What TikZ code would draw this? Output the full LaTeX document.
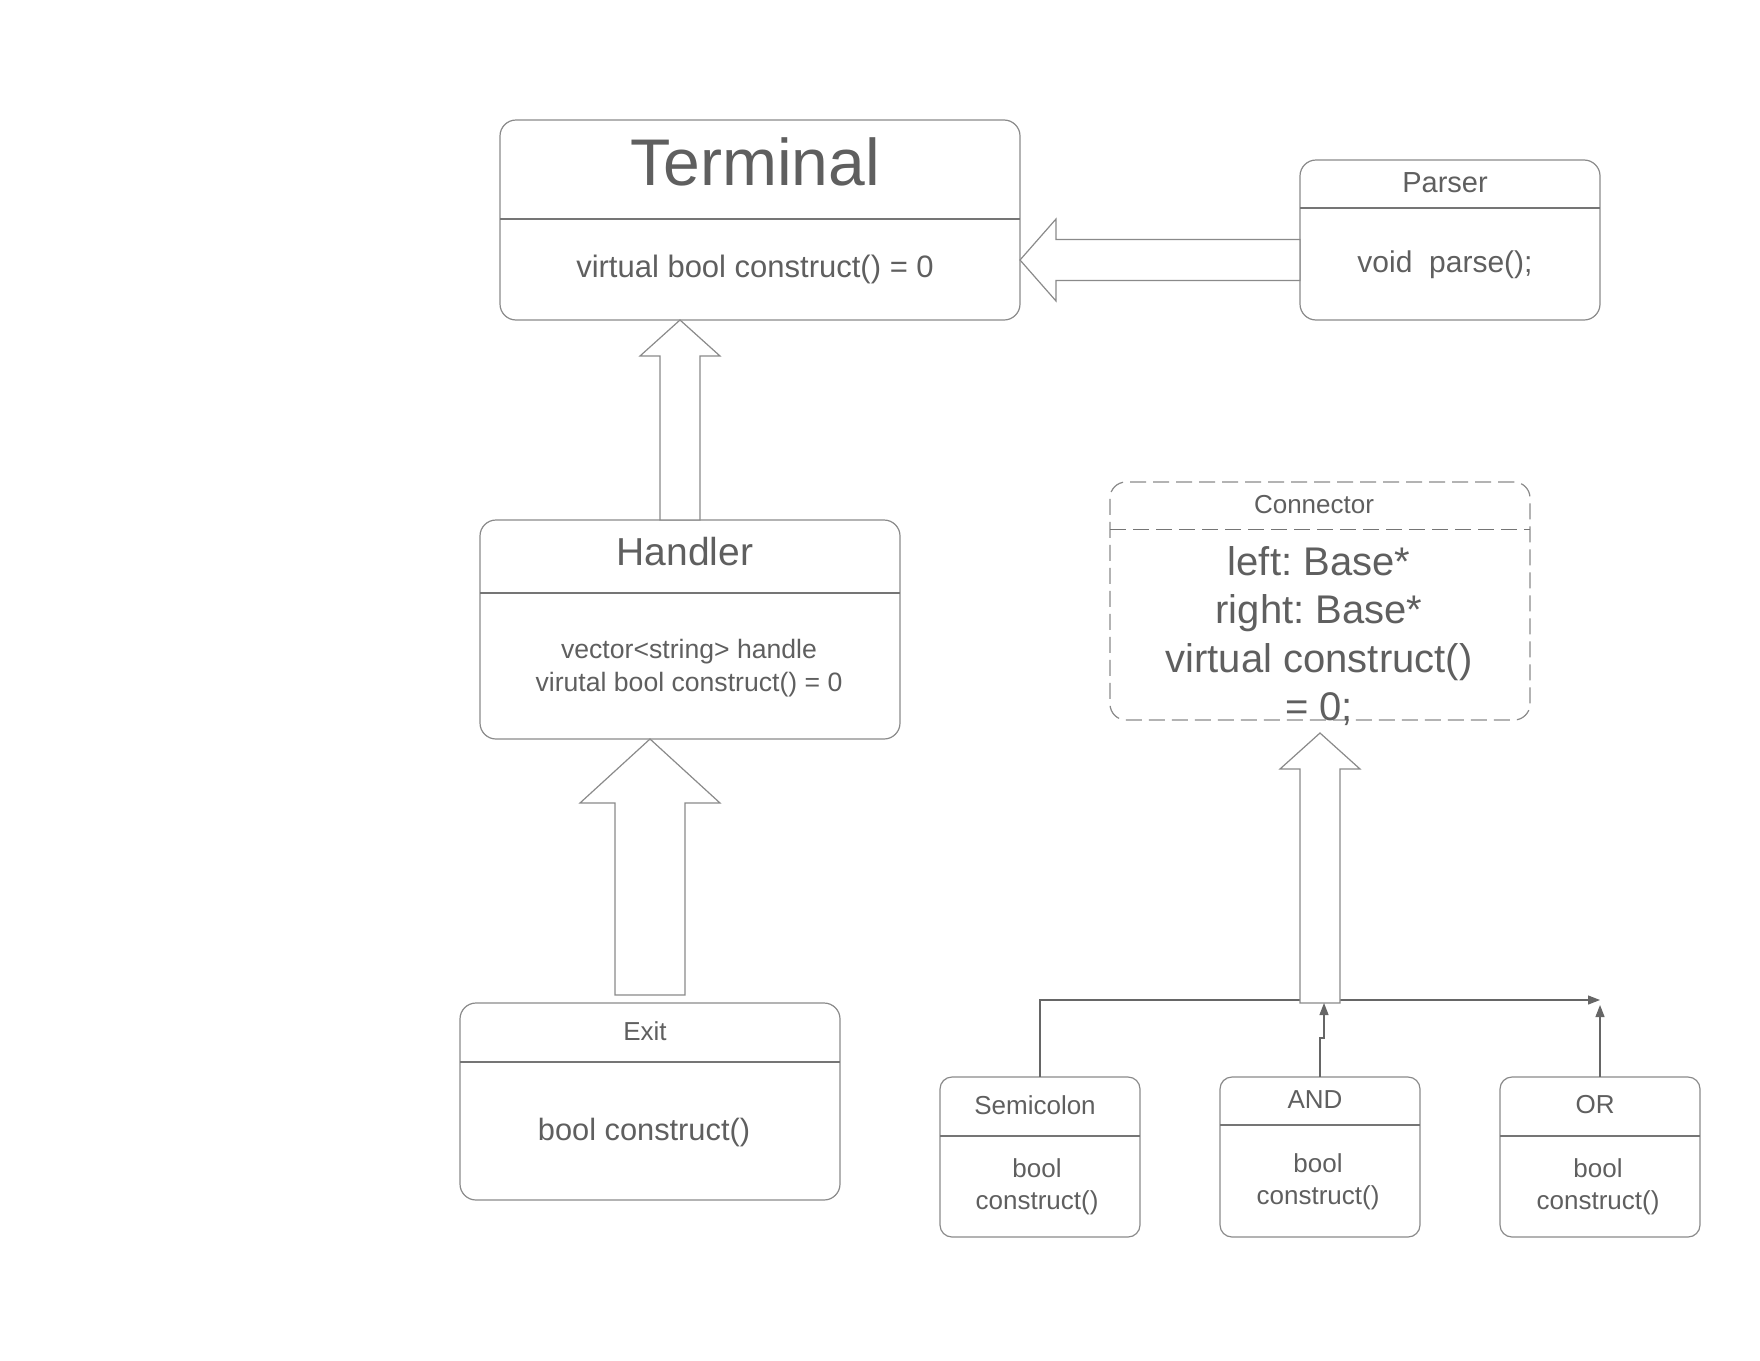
\documentclass[tikz,border=0pt]{standalone}
\usepackage{fontspec}
\setmainfont{Liberation Sans}
\usepackage{tikz}
\usetikzlibrary{calc,arrows.meta,positioning}
\definecolor{linegray}{HTML}{8A8A8A}
\definecolor{textgray}{HTML}{5F5F5F}
\definecolor{tipgray}{HTML}{666666}
\frenchspacing

\begin{document}
\begin{tikzpicture}[x=0.5pt,y=-0.5pt]

\tikzset{classbox/.style={draw=linegray,line width=0.6pt,rounded corners=8pt,inner sep=0pt,outer sep=0pt},
smallbox/.style={classbox,rounded corners=6pt,minimum width=100pt,minimum height=80pt},
divider/.style={draw=linegray!85!black,line width=0.6pt},
classtext/.style={text=textgray,inner sep=0pt,align=center},
hollow/.style={draw=linegray,line width=0.6pt,fill=white,line join=miter},
link/.style={draw=tipgray,line width=0.6pt,-{Triangle[length=6pt,width=4.5pt]}}}

\useasboundingbox (0,0) rectangle (1760,1360);

% Class boxes
\node[classbox,minimum width=260pt,minimum height=100pt] (terminal) at (760,220) {};
\node[classbox,minimum width=150pt,minimum height=80pt] (parser) at (1450,240) {};
\node[classbox,minimum width=210pt,minimum height=109.5pt] (handler) at (690,629.5) {};
\node[classbox,dash pattern=on 8pt off 3.5pt,minimum width=210pt,minimum height=119pt] (connector) at (1320,601) {};
\node[classbox,minimum width=190pt,minimum height=98.5pt] (exitBox) at (650,1101.5) {};
\node[smallbox] (semiBox) at (1040,1157) {};
\node[smallbox,right=40pt of semiBox] (andBox) {};
\node[smallbox,right=40pt of andBox] (orBox) {};

% Dividers
\draw[divider] ($(terminal.north west)+(0,99)$) -- ($(terminal.north east)+(0,99)$);
\draw[divider] ($(parser.north west)+(0,48)$) -- ($(parser.north east)+(0,48)$);
\draw[divider] ($(handler.north west)+(0,73)$) -- ($(handler.north east)+(0,73)$);
\draw[divider,dash pattern=on 8pt off 3.5pt] ($(connector.north west)+(0,47.5)$) -- ($(connector.north east)+(0,47.5)$);
\draw[divider] ($(exitBox.north west)+(0,59)$) -- ($(exitBox.north east)+(0,59)$);
\draw[divider] ($(semiBox.north west)+(0,59)$) -- ($(semiBox.north east)+(0,59)$);
\draw[divider] ($(andBox.north west)+(0,48)$) -- ($(andBox.north east)+(0,48)$);
\draw[divider] ($(orBox.north west)+(0,59)$) -- ($(orBox.north east)+(0,59)$);

% Texts
\node[classtext,anchor=base,font=\fontsize{33}{39}\selectfont] (terminalTitle) at (755,185) {Terminal};
\node[classtext,anchor=base,font=\fontsize{15.5}{19}\selectfont] (terminalBody) at (755,277) {virtual bool construct() = 0};
\node[classtext,anchor=base,font=\fontsize{14.5}{18}\selectfont] (parserTitle) at (1445,192) {Parser};
\node[classtext,anchor=base,font=\fontsize{15}{18}\selectfont] (parserBody) at (1445,272) {void\ \ parse();};
\node[classtext,anchor=base,font=\fontsize{19.5}{24}\selectfont] (handlerTitle) at (685,565) {Handler};
\node[classtext,font=\fontsize{13.3}{16.3}\selectfont] (handlerBody) at (689,668) {vector<string> handle\\ virutal bool construct() = 0};
\node[classtext,anchor=base,font=\fontsize{13}{16}\selectfont] (connectorTitle) at (1314,513) {Connector};
\node[classtext,font=\fontsize{20}{24.2}\selectfont] (connectorBody) at (1319,636) {left: Base*\\ right: Base*\\ virtual construct()\\ = 0;};
\node[classtext,anchor=base,font=\fontsize{13}{16}\selectfont] (exitTitle) at (645,1040) {Exit};
\node[classtext,anchor=base,font=\fontsize{15.4}{19}\selectfont] (exitBody) at (644,1140) {bool construct()};
\node[classtext,anchor=base,font=\fontsize{13}{16}\selectfont] (semiTitle) at (1035,1114) {Semicolon};
\node[classtext,font=\fontsize{13}{16}\selectfont] (semiBody) at (1037,1187) {bool\\ construct()};
\node[classtext,anchor=base,font=\fontsize{13}{16}\selectfont] (andTitle) at (1315,1108) {AND};
\node[classtext,font=\fontsize{13}{16}\selectfont] (andBody) at (1318,1182) {bool\\ construct()};
\node[classtext,anchor=base,font=\fontsize{13}{16}\selectfont] (orTitle) at (1595,1113) {OR};
\node[classtext,font=\fontsize{13}{16}\selectfont] (orBody) at (1598,1187) {bool\\ construct()};

% Bus below Connector
\coordinate (busEnd) at ($(orBox.north)+(0,-77)$);
\draw[link] (semiBox.north) |- (busEnd);
\draw[link] (orBox.north) -- ++(0,-72);

% Hollow arrows
\coordinate (tipA) at ($(terminal.east)+(0,40)$);
\draw[hollow] (tipA) -- ++(36,-41) -- ++(0,20.5) -- ($(tipA -| parser.west)+(0,-20.5)$) -- ++(0,41) -- ($(tipA)+(36,20.5)$) -- ++(0,20.5) -- cycle;

\coordinate (tipB) at ($(terminal.south)+(-80,0)$);
\draw[hollow] (tipB) -- ++(40,36) -- ++(-20,0) -- ($(tipB |- handler.north)+(20,0)$) -- ++(-40,0) -- ($(tipB)+(-20,36)$) -- ++(-20,0) -- cycle;

\coordinate (tipC) at (exitBox.north |- handler.south);
\draw[hollow] (tipC) -- ++(70,64) -- ++(-35,0) -- ($(exitBox.north)+(35,-8)$) -- ++(-70,0) -- ($(tipC)+(-35,64)$) -- ++(-35,0) -- cycle;

\coordinate (tipD) at ($(connector.south)+(0,13)$);
\draw[hollow] (tipD) -- ++(40,36) -- ++(-20,0) -- ($(busEnd -| tipD)+(20,3)$) -- ++(-40,0) -- ($(tipD)+(-20,36)$) -- ++(-20,0) -- cycle;

\draw[link] (andBox.north) -- ++(0,-39) -- ++(4,0) -- ++(0,-35);

\end{tikzpicture}
\end{document}
